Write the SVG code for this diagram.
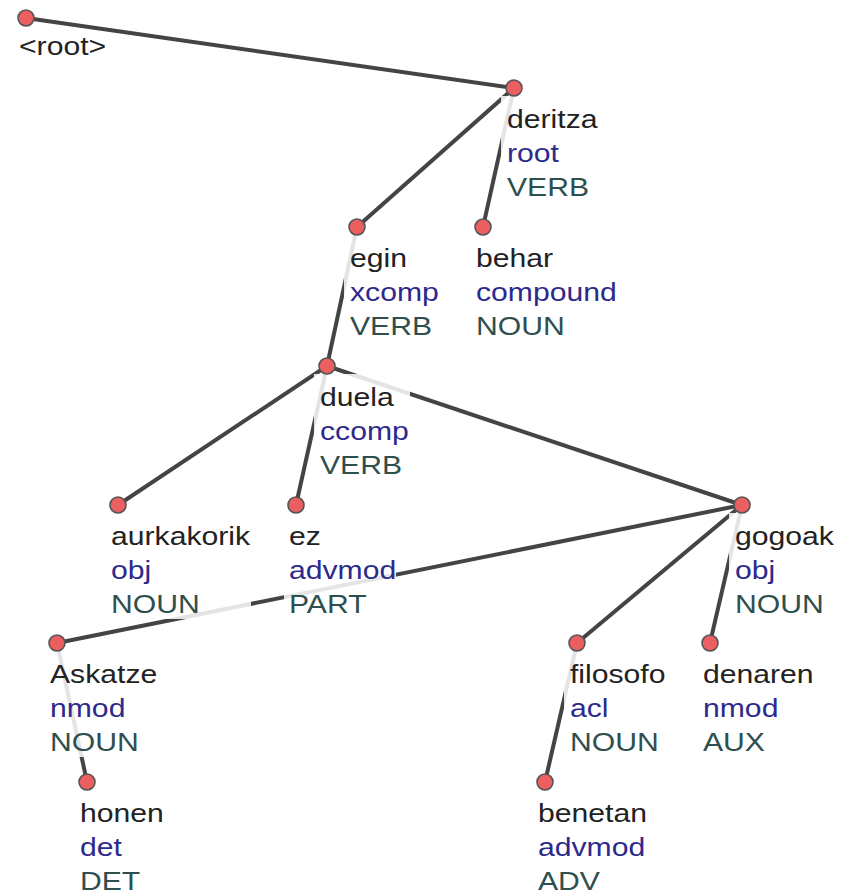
<svg xmlns="http://www.w3.org/2000/svg" width="843" height="896" viewBox="0 0 843 896">
  <style>
    .edge { stroke: #444; stroke-width: 4; fill: none; }
    .dot { fill: #ec5f60; stroke: #555; stroke-width: 1.6; }
    .bg { fill: #fff; fill-opacity: 0.86; }
    text { font-family: "Liberation Sans", Arial, sans-serif; font-size: 26px; }
    .form { fill: #222; }
    .rel { fill: #2d2a8c; }
    .pos { fill: #2f4f4f; }
  </style>
  <rect width="843" height="896" fill="#fff"/>

  <!-- dependency arcs -->
  <g id="edges">
    <line class="edge" x1="26" y1="18" x2="514" y2="88"/>
    <line class="edge" x1="514" y1="88" x2="357" y2="227"/>
    <line class="edge" x1="514" y1="88" x2="483" y2="227"/>
    <line class="edge" x1="357" y1="227" x2="327" y2="366"/>
    <line class="edge" x1="327" y1="366" x2="118" y2="505"/>
    <line class="edge" x1="327" y1="366" x2="296" y2="505"/>
    <line class="edge" x1="327" y1="366" x2="742" y2="505"/>
    <line class="edge" x1="742" y1="505" x2="57" y2="643"/>
    <line class="edge" x1="742" y1="505" x2="577" y2="643"/>
    <line class="edge" x1="742" y1="505" x2="710" y2="643"/>
    <line class="edge" x1="57" y1="643" x2="87" y2="782"/>
    <line class="edge" x1="577" y1="643" x2="545" y2="782"/>
  </g>

  <!-- tokens: label block (form / deprel / upos) and node dot -->
  <g id="node-root">
    <g transform="translate(19,18) scale(1.16,1)">
      <text class="form" y="37">&lt;root&gt;</text>
    </g>
    <circle class="dot" cx="26" cy="18" r="8"/>
  </g>

  <g id="node-deritza">
    <g transform="translate(507,88)">
      <rect class="bg" x="-6" y="8" width="98" height="106"/>
      <g transform="scale(1.16,1)">
        <text class="form" y="40">deritza</text>
        <text class="rel" y="74">root</text>
        <text class="pos" y="108">VERB</text>
      </g>
    </g>
    <circle class="dot" cx="514" cy="88" r="8"/>
  </g>

  <g id="node-egin">
    <g transform="translate(350,227)">
      <rect class="bg" x="-6" y="8" width="96" height="106"/>
      <g transform="scale(1.16,1)">
        <text class="form" y="40">egin</text>
        <text class="rel" y="74">xcomp</text>
        <text class="pos" y="108">VERB</text>
      </g>
    </g>
    <circle class="dot" cx="357" cy="227" r="8"/>
  </g>

  <g id="node-behar">
    <g transform="translate(476,227)">
      <rect class="bg" x="-6" y="8" width="150" height="106"/>
      <g transform="scale(1.16,1)">
        <text class="form" y="40">behar</text>
        <text class="rel" y="74">compound</text>
        <text class="pos" y="108">NOUN</text>
      </g>
    </g>
    <circle class="dot" cx="483" cy="227" r="8"/>
  </g>

  <g id="node-duela">
    <g transform="translate(320,366)">
      <rect class="bg" x="-6" y="8" width="96" height="106"/>
      <g transform="scale(1.16,1)">
        <text class="form" y="40">duela</text>
        <text class="rel" y="74">ccomp</text>
        <text class="pos" y="108">VERB</text>
      </g>
    </g>
    <circle class="dot" cx="327" cy="366" r="8"/>
  </g>

  <g id="node-aurkakorik">
    <g transform="translate(111,505)">
      <rect class="bg" x="-6" y="8" width="146" height="106"/>
      <g transform="scale(1.16,1)">
        <text class="form" y="40">aurkakorik</text>
        <text class="rel" y="74">obj</text>
        <text class="pos" y="108">NOUN</text>
      </g>
    </g>
    <circle class="dot" cx="118" cy="505" r="8"/>
  </g>

  <g id="node-ez">
    <g transform="translate(289,505)">
      <rect class="bg" x="-5" y="8" width="112" height="106"/>
      <g transform="scale(1.16,1)">
        <text class="form" y="40">ez</text>
        <text class="rel" y="74">advmod</text>
        <text class="pos" y="108">PART</text>
      </g>
    </g>
    <circle class="dot" cx="296" cy="505" r="8"/>
  </g>

  <g id="node-gogoak">
    <g transform="translate(735,505)">
      <rect class="bg" x="-6" y="8" width="106" height="106"/>
      <g transform="scale(1.16,1)">
        <text class="form" y="40">gogoak</text>
        <text class="rel" y="74">obj</text>
        <text class="pos" y="108">NOUN</text>
      </g>
    </g>
    <circle class="dot" cx="742" cy="505" r="8"/>
  </g>

  <g id="node-askatze">
    <g transform="translate(50,643)">
      <rect class="bg" x="-6" y="8" width="114" height="106"/>
      <g transform="scale(1.16,1)">
        <text class="form" y="40">Askatze</text>
        <text class="rel" y="74">nmod</text>
        <text class="pos" y="108">NOUN</text>
      </g>
    </g>
    <circle class="dot" cx="57" cy="643" r="8"/>
  </g>

  <g id="node-filosofo">
    <g transform="translate(570,643)">
      <rect class="bg" x="-6" y="8" width="102" height="106"/>
      <g transform="scale(1.16,1)">
        <text class="form" y="40">filosofo</text>
        <text class="rel" y="74">acl</text>
        <text class="pos" y="108">NOUN</text>
      </g>
    </g>
    <circle class="dot" cx="577" cy="643" r="8"/>
  </g>

  <g id="node-denaren">
    <g transform="translate(703,643)">
      <rect class="bg" x="-6" y="8" width="117" height="106"/>
      <g transform="scale(1.16,1)">
        <text class="form" y="40">denaren</text>
        <text class="rel" y="74">nmod</text>
        <text class="pos" y="108">AUX</text>
      </g>
    </g>
    <circle class="dot" cx="710" cy="643" r="8"/>
  </g>

  <g id="node-honen">
    <g transform="translate(80,782)">
      <rect class="bg" x="-6" y="8" width="90" height="106"/>
      <g transform="scale(1.16,1)">
        <text class="form" y="40">honen</text>
        <text class="rel" y="74">det</text>
        <text class="pos" y="108">DET</text>
      </g>
    </g>
    <circle class="dot" cx="87" cy="782" r="8"/>
  </g>

  <g id="node-benetan">
    <g transform="translate(538,782)">
      <rect class="bg" x="-6" y="8" width="116" height="106"/>
      <g transform="scale(1.16,1)">
        <text class="form" y="40">benetan</text>
        <text class="rel" y="74">advmod</text>
        <text class="pos" y="108">ADV</text>
      </g>
    </g>
    <circle class="dot" cx="545" cy="782" r="8"/>
  </g>
</svg>
